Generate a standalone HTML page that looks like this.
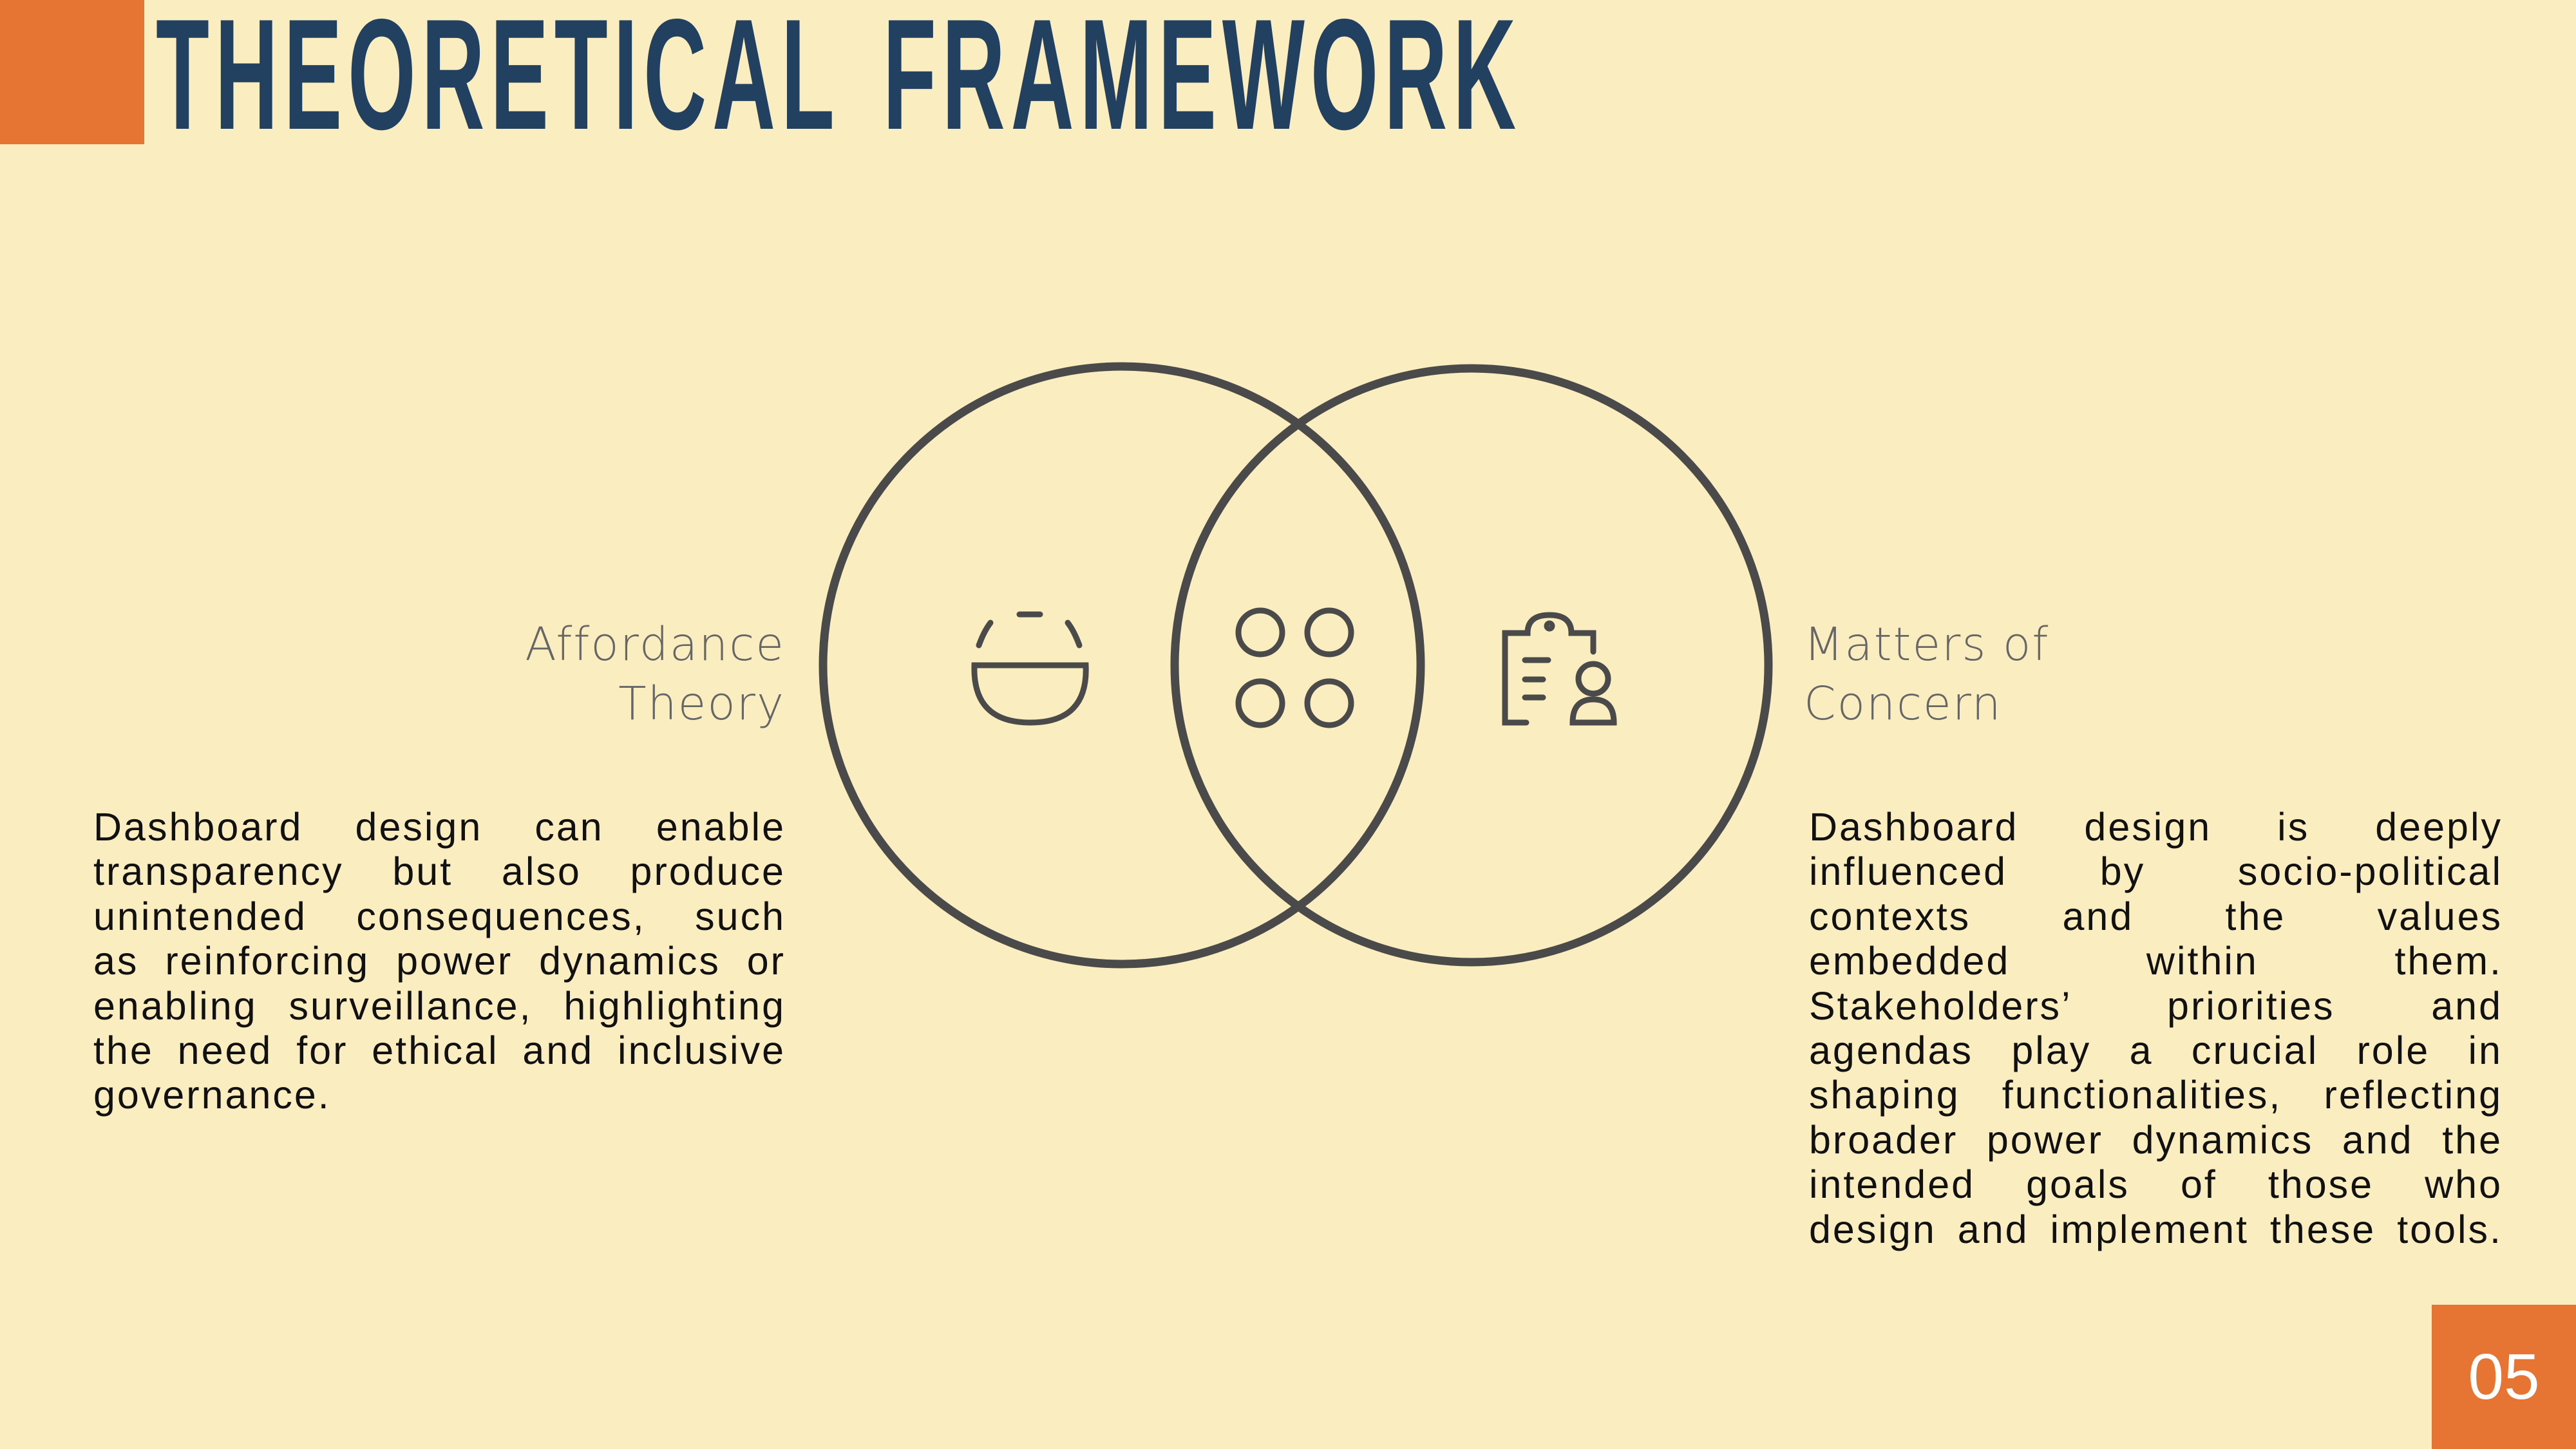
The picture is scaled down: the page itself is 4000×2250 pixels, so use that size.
<!DOCTYPE html>
<html><head><meta charset="utf-8"><style>
html,body{margin:0;padding:0}
body{width:4000px;height:2250px;background:#FAEDBF;position:relative;overflow:hidden;font-family:"Liberation Sans",sans-serif}
.sq{position:absolute;left:0;top:0;width:224px;height:224px;background:#E67433}
.title{position:absolute;left:242px;top:0px;font-size:245px;line-height:230px;font-weight:bold;color:#22405F;transform:scaleX(0.554);transform-origin:0 0;letter-spacing:16px;word-spacing:40px;white-space:nowrap}
.lab{position:absolute;font-family:"DejaVu Sans",sans-serif;font-size:71px;line-height:92px;color:#666;font-weight:300;letter-spacing:2px}
.p{position:absolute;font-size:61px;line-height:69.4px;color:#111;letter-spacing:3px}
.p div{text-align:justify;text-align-last:justify;white-space:nowrap}
.p div.l{text-align-last:left}
.num{position:absolute;left:3776px;top:2026px;width:224px;height:224px;background:#E67433;color:#fff;font-size:100px;line-height:224px;text-align:center}
</style></head><body>
<div class="sq"></div>
<div class="title">THEORETICAL FRAMEWORK</div>
<svg width="4000" height="2250" style="position:absolute;left:0;top:0" fill="none" stroke="#4a4a4a" stroke-linecap="round">
<circle cx="1742" cy="1033" r="464" stroke-width="13"/>
<circle cx="2285" cy="1033" r="461" stroke-width="13"/>
<g stroke-width="9">
<path d="M1583 954 L1615 954"/>
<path d="M1520 1002 Q1528 980 1538 967"/>
<path d="M1676 1002 Q1668 980 1658 967"/>
<path d="M1513 1033 L1686 1033 Q1690 1122 1600 1122 Q1510 1122 1513 1033 Z"/>
<circle cx="1957" cy="982" r="34"/><circle cx="2064" cy="982" r="34"/>
<circle cx="1957" cy="1092" r="34"/><circle cx="2064" cy="1092" r="34"/>
<path d="M2370 1122 L2337 1122 L2337 983 L2372 983 Q2372 955 2406 955 Q2440 955 2440 983 L2474 983 L2474 1012"/>
<circle cx="2406" cy="972" r="4"/>
<path d="M2368 1025 L2404 1025 M2368 1055 L2396 1055 M2368 1083 L2396 1083"/>
<circle cx="2474" cy="1054" r="23"/>
<path d="M2442 1122 Q2442 1086 2474 1086 Q2506 1086 2506 1122 Z"/>
</g></svg>
<div class="lab" style="right:2781px;top:955px;text-align:right">Affordance<br>Theory</div>
<div class="lab" style="left:2801px;top:955px">Matters of<br>Concern</div>
<div class="p" style="left:145px;top:1250px;width:1075px">
<div>Dashboard design can enable</div>
<div>transparency but also produce</div>
<div>unintended consequences, such</div>
<div>as reinforcing power dynamics or</div>
<div>enabling surveillance, highlighting</div>
<div>the need for ethical and inclusive</div>
<div class="l">governance.</div>
</div>
<div class="p" style="left:2809px;top:1250px;width:1077px">
<div>Dashboard design is deeply</div>
<div>influenced by socio-political</div>
<div>contexts and the values</div>
<div>embedded within them.</div>
<div>Stakeholders’ priorities and</div>
<div>agendas play a crucial role in</div>
<div>shaping functionalities, reflecting</div>
<div>broader power dynamics and the</div>
<div>intended goals of those who</div>
<div>design and implement these tools.</div>
</div>
<div class="num">05</div>
</body></html>
